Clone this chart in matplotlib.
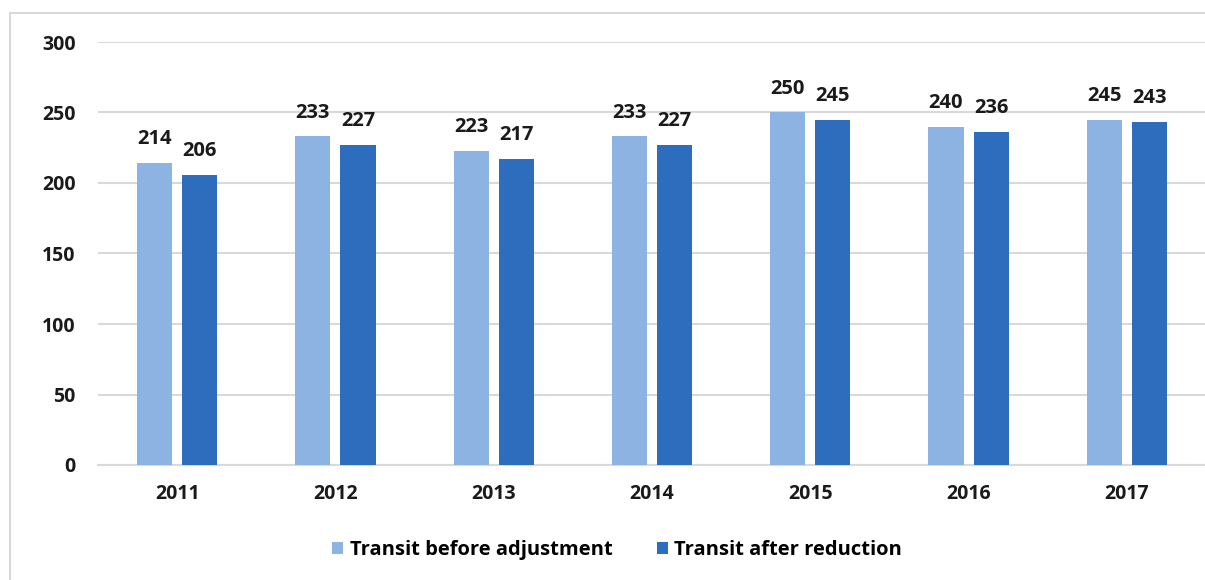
import matplotlib
matplotlib.use("Agg")
import matplotlib.pyplot as plt
from matplotlib.patches import Rectangle
import numpy as np

years = ["2011", "2012", "2013", "2014", "2015", "2016", "2017"]
before = [214, 233, 223, 233, 250, 240, 245]
after = [206, 227, 217, 227, 245, 236, 243]
yticks = [0, 50, 100, 150, 200, 250, 300]

c_light = "#8DB3E2"
c_dark = "#2E6DBE"

plt.rcParams['font.family'] = ['Open Sans', 'DejaVu Sans']

W, H = 1205, 580
fig = plt.figure(figsize=(W / 100, H / 100), dpi=100)

# outer chart border
fig.patches.append(Rectangle((10 / W, -0.05), 1.1, (580 - 13) / H + 0.05,
                             transform=fig.transFigure, fill=False,
                             edgecolor="#d9d9d9", linewidth=1.5))

ax = fig.add_axes([98 / W, (H - 465) / H, 1108 / W, (465 - 42) / H])
x = np.arange(len(years))
off = 0.143
bw = 0.222
b1 = ax.bar(x - off, before, bw, color=c_light, label="Transit before adjustment", zorder=3)
b2 = ax.bar(x + off, after, bw, color=c_dark, label="Transit after reduction", zorder=3)

for bars, vals in ((b1, before), (b2, after)):
    for r, v in zip(bars, vals):
        ax.annotate(str(v), (r.get_x() + r.get_width() / 2, v), xytext=(0, 10),
                    textcoords="offset points", ha="center", va="bottom",
                    fontsize=14.5, fontweight="bold", color="#1a1a1a")

ax.set_xlim(-0.5, 6.5)
ax.set_ylim(0, 300)
ax.set_yticks(yticks)
ax.set_yticklabels([str(t) for t in yticks], fontsize=14, fontweight="bold", color="#1a1a1a")
ax.set_xticks(x)
ax.set_xticklabels(years, fontsize=14, fontweight="bold", color="#1a1a1a")
ax.tick_params(axis="both", length=0)
ax.tick_params(axis="y", pad=16)
ax.tick_params(axis="x", pad=14)
ax.grid(axis="y", color="#d9d9d9", linewidth=1.5, zorder=0)
for s in ["top", "right", "left"]:
    ax.spines[s].set_visible(False)
ax.spines["bottom"].set_color("#d9d9d9")
ax.spines["bottom"].set_linewidth(1.5)

fig.legend(handles=[b1, b2], loc="center", bbox_to_anchor=(617 / W, (H - 550) / H),
           ncol=2, frameon=False, prop={"size": 14.5, "weight": "bold"},
           handlelength=0.55, handleheight=0.55, handletextpad=0.3, columnspacing=2.2)

fig.savefig("out.png", dpi=100)
